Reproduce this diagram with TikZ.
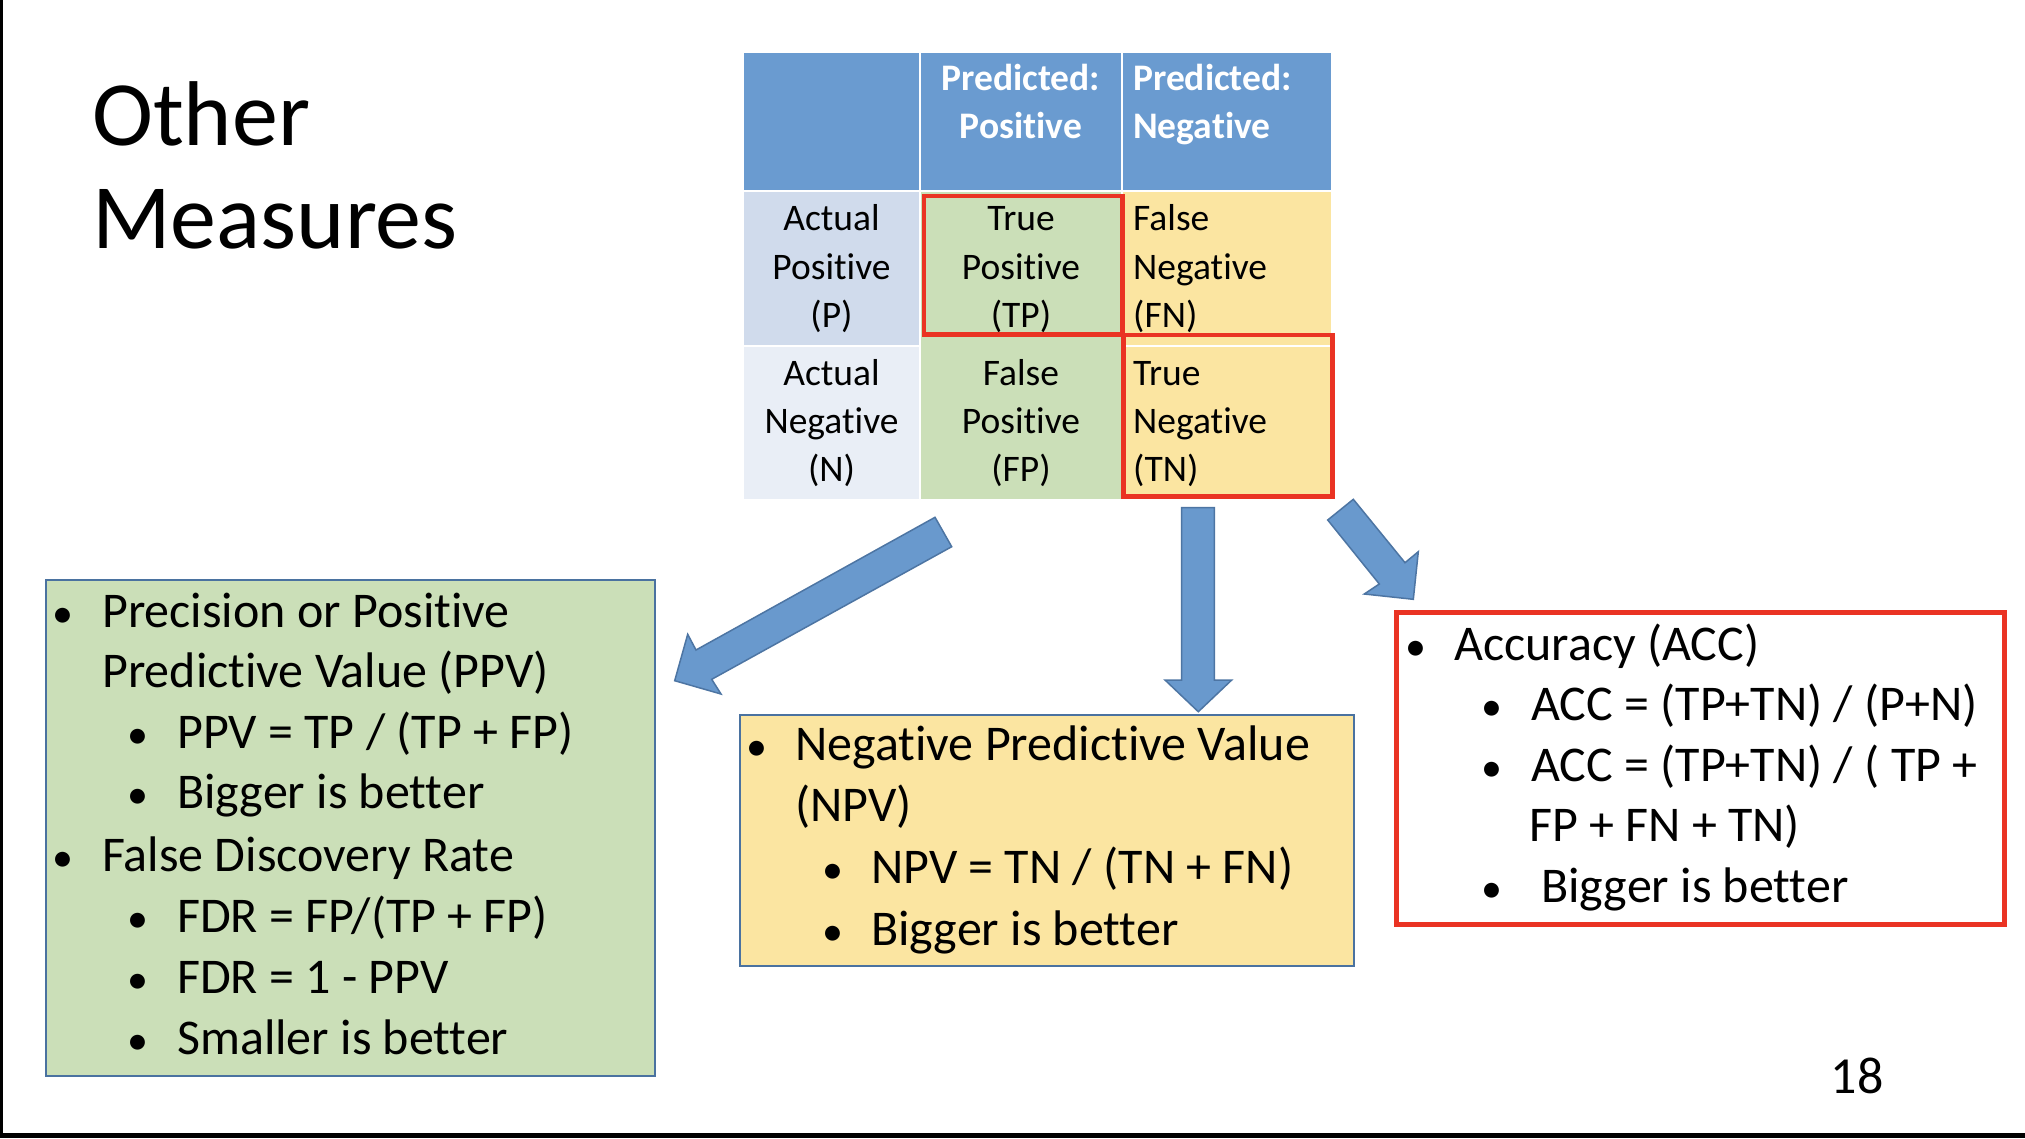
\documentclass[tikz,border=0pt]{standalone}
\usepackage{fontspec}
\setmainfont{Carlito}[Ligatures={NoCommon}, Contextuals={NoAlternate}]

\definecolor{hdrblue}{HTML}{6A9BD0}
\definecolor{rowblueA}{HTML}{D0DBEC}
\definecolor{rowblueB}{HTML}{E9EEF6}
\definecolor{cellgreen}{HTML}{CBDFB8}
\definecolor{cellyellow}{HTML}{FBE5A1}
\definecolor{hlred}{HTML}{EA3323}
\definecolor{boxedge}{HTML}{4A72A0}
\definecolor{arrowfill}{HTML}{6999CD}
\definecolor{arrowedge}{HTML}{4D75A3}

\tikzset{
  bodytxt/.style={anchor=base west, inner sep=0pt, font=\fontsize{50}{60}\selectfont},
  bodyblt/.style={anchor=base, inner sep=0pt, font=\fontsize{42}{50}\selectfont},
  celltxt/.style={anchor=base, inner sep=0pt, font=\fontsize{37.5}{45}\selectfont},
  celltxtl/.style={anchor=base west, inner sep=0pt, font=\fontsize{37.5}{45}\selectfont},
  hdrtxt/.style={text=white, font=\fontsize{37.5}{45}\selectfont\bfseries},
  blockarrow/.style={fill=arrowfill, draw=arrowedge, line width=1.5pt, line join=miter},
  panel/.style={draw=boxedge, line width=2pt},
  hlbox/.style={draw=hlred, line width=4.5pt, line join=miter},
}

\begin{document}
\begin{tikzpicture}[x=1pt, y=-1pt]
  \useasboundingbox (0,0) rectangle (2025,1138);
  \fill[white] (0,0) rectangle (2025,1138);

  % slide frame edges
  \fill[black] (0,0) rectangle (2.5,1138);
  \fill[black] (0,1133) rectangle (2025,1138);

  % title
  \node[anchor=base west, inner sep=0pt, font=\fontsize{92}{103}\selectfont] (title1) at (92,145) {Other};
  \node[anchor=base west, inner sep=0pt, font=\fontsize{92}{103}\selectfont] (title2) at (92,248.3) {Measures};

  % confusion matrix cells
  \fill[hdrblue] (744,53) rectangle (919,190);
  \fill[hdrblue] (921,53) rectangle (1121,190);
  \fill[hdrblue] (1123,53) rectangle (1331,190);
  \fill[rowblueA] (744,192) rectangle (919,345);
  \fill[rowblueB] (744,347) rectangle (919,499);
  \fill[cellgreen] (921,192) rectangle (1121,499);
  \fill[cellyellow] (1123,192) rectangle (1331,345);
  \fill[cellyellow] (1123,347) rectangle (1331,499);

  % header labels
  \node[celltxt, hdrtxt] (hp1) at (1021,90) {Predicted:};
  \node[celltxt, hdrtxt] (hp2) at (1021,138.3) {Positive};
  \node[celltxtl, hdrtxt] (hn1) at (1133,90) {Predicted:};
  \node[celltxtl, hdrtxt] (hn2) at (1133,138.3) {Negative};

  % row labels
  \node[celltxt] (ap1) at (831.5,230.7) {Actual};
  \node[celltxt] (ap2) at (831.5,279) {Positive};
  \node[celltxt] (ap3) at (831.5,327.5) {(P)};
  \node[celltxt] (an1) at (831.5,385) {Actual};
  \node[celltxt] (an2) at (831.5,433) {Negative};
  \node[celltxt] (an3) at (831.5,481.5) {(N)};

  % cell contents
  \node[celltxt] (tp1) at (1021,230.7) {True};
  \node[celltxt] (tp2) at (1021,279) {Positive};
  \node[celltxt] (tp3) at (1021,327.5) {(TP)};
  \node[celltxt] (fp1) at (1021,385) {False};
  \node[celltxt] (fp2) at (1021,433) {Positive};
  \node[celltxt] (fp3) at (1021,481.5) {(FP)};
  \node[celltxtl] (fn1) at (1133,230.7) {False};
  \node[celltxtl] (fn2) at (1133,279) {Negative};
  \node[celltxtl] (fn3) at (1133,327.5) {(FN)};
  \node[celltxtl] (tn1) at (1133,385) {True};
  \node[celltxtl] (tn2) at (1133,433) {Negative};
  \node[celltxtl] (tn3) at (1133,481.5) {(TN)};

  % highlighted cells
  \draw[hlbox] (924.2,196.2) rectangle (1122.3,334.6);
  \draw[hlbox] (1123.5,334.8) rectangle (1332.5,496.3);

  % block arrows
  \coordinate (a1t1) at (935,517.3);
  \coordinate (a1t2) at (951.7,546.7);
  \coordinate (a1i2) at (711.7,679.3);
  \coordinate (a1b2) at (721,694);
  \coordinate (a1tip) at (674.7,680.7);
  \coordinate (a1b1) at (687.7,634.3);
  \coordinate (a1i1) at (696,650);
  \draw[blockarrow] (a1t1) -- (a1t2) -- (a1i2) -- (a1b2) -- (a1tip) -- (a1b1) -- (a1i1) -- cycle;

  \coordinate (a2t1) at (1181.7,507.7);
  \coordinate (a2t2) at (1214.3,507.7);
  \coordinate (a2i2) at (1214.3,680);
  \coordinate (a2b2) at (1231.7,680);
  \coordinate (a2tip) at (1198.3,711.7);
  \coordinate (a2b1) at (1165,680);
  \coordinate (a2i1) at (1181.7,680);
  \draw[blockarrow] (a2t1) -- (a2t2) -- (a2i2) -- (a2b2) -- (a2tip) -- (a2b1) -- (a2i1) -- cycle;

  \coordinate (a3t1) at (1327.7,520);
  \coordinate (a3t2) at (1353.3,499.3);
  \coordinate (a3i2) at (1405,562.7);
  \coordinate (a3b2) at (1418.3,551.7);
  \coordinate (a3tip) at (1413.3,599.3);
  \coordinate (a3b1) at (1364.3,594);
  \coordinate (a3i1) at (1379.3,584);
  \draw[blockarrow] (a3t1) -- (a3t2) -- (a3i2) -- (a3b2) -- (a3tip) -- (a3b1) -- (a3i1) -- cycle;

  % precision / false discovery panel
  \fill[cellgreen] (46,580) rectangle (655,1076);
  \draw[panel] (46,580) rectangle (655,1076);
  \node[bodyblt] (g1b) at (63,627) {•};
  \node[bodytxt] (g1) at (102,627) {Precision or Positive};
  \node[bodytxt] (g2) at (102,687.5) {Predictive Value (PPV)};
  \node[bodyblt] (g3b) at (138,748) {•};
  \node[bodytxt] (g3) at (177,748) {PPV = TP / (TP + FP)};
  \node[bodyblt] (g4b) at (138,808.5) {•};
  \node[bodytxt] (g4) at (177,808.5) {Bigger is better};
  \node[bodyblt] (g5b) at (63,871) {•};
  \node[bodytxt] (g5) at (102,871) {False Discovery Rate};
  \node[bodyblt] (g6b) at (138,932) {•};
  \node[bodytxt] (g6) at (177,932) {FDR = FP/(TP + FP)};
  \node[bodyblt] (g7b) at (138,993) {•};
  \node[bodytxt] (g7) at (177,993) {FDR = 1 - PPV};
  \node[bodyblt] (g8b) at (138,1054.5) {•};
  \node[bodytxt] (g8) at (177,1054.5) {Smaller is better};

  % negative predictive value panel
  \fill[cellyellow] (740,715) rectangle (1354,966);
  \draw[panel] (740,715) rectangle (1354,966);
  \node[bodyblt] (y1b) at (756.7,760) {•};
  \node[bodytxt] (y1) at (795,760) {Negative Predictive Value};
  \node[bodytxt] (y2) at (795,821.7) {(NPV)};
  \node[bodyblt] (y3b) at (833,883.3) {•};
  \node[bodytxt] (y3) at (871,883.3) {NPV = TN / (TN + FN)};
  \node[bodyblt] (y4b) at (833,945) {•};
  \node[bodytxt] (y4) at (871,945) {Bigger is better};

  % accuracy panel
  \draw[hlbox] (1396.3,612.3) rectangle (2004.7,924.7);
  \node[bodyblt] (r1b) at (1415.7,660) {•};
  \node[bodytxt] (r1) at (1454,660) {Accuracy (ACC)};
  \node[bodyblt] (r2b) at (1491.7,720) {•};
  \node[bodytxt] (r2) at (1531,720) {ACC = (TP+TN) / (P+N)};
  \node[bodyblt] (r3b) at (1491.7,781.7) {•};
  \node[bodytxt] (r3) at (1531,781.7) {ACC = (TP+TN) / ( TP +};
  \node[bodytxt] (r4) at (1529,841.7) {FP + FN + TN)};
  \node[bodyblt] (r5b) at (1491.7,902) {•};
  \node[bodytxt] (r5) at (1541,902) {Bigger is better};

  % slide number
  \node[anchor=base west, inner sep=0pt, font=\fontsize{52}{60}\selectfont] (pnum) at (1830.7,1093) {18};
\end{tikzpicture}
\end{document}
